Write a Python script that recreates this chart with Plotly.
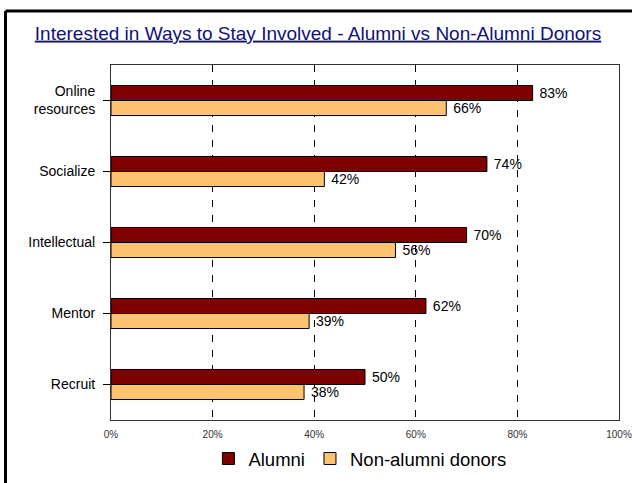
import plotly.graph_objects as go

# Data
CATEGORIES = ["Online<br>resources", "Socialize", "Intellectual", "Mentor", "Recruit"]
ALUMNI = [0.83, 0.74, 0.70, 0.62, 0.50]
NON_ALUMNI = [0.66, 0.42, 0.56, 0.39, 0.38]
X_TICKS = [0, 0.2, 0.4, 0.6, 0.8, 1.0]

MAROON = "#7F0000"
PEACH = "#FFC26E"
FONT = "Liberation Sans, Arial, sans-serif"

W, H = 632, 483
L, R, T, B = 111, 13, 65, 63
PW, PH = W - L - R, H - T - B

fig = go.Figure()
# y axis is reversed, so the first trace sits on top of each group
fig.add_trace(go.Bar(
    y=CATEGORIES, x=ALUMNI, orientation="h", name="Alumni",
    marker=dict(color=MAROON, line=dict(color="black", width=1)),
    text=[f" {v:.0%}" for v in ALUMNI], textposition="outside",
    textfont=dict(size=14, color="black", family=FONT),
    constraintext="none", cliponaxis=False,
))
fig.add_trace(go.Bar(
    y=CATEGORIES, x=NON_ALUMNI, orientation="h", name="Non-alumni donors",
    marker=dict(color=PEACH, line=dict(color="black", width=1)),
    text=[f" {v:.0%}" for v in NON_ALUMNI], textposition="outside",
    textfont=dict(size=14, color="black", family=FONT),
    constraintext="none", cliponaxis=False,
))

# outer frame (left and top edges visible in the reference)
fx = (5.5 - L) / PW
fy = (H - B - 11) / PH
fig.add_shape(type="line", xref="paper", yref="paper",
              x0=fx, x1=(W + 10 - L) / PW, y0=fy, y1=fy,
              line=dict(color="black", width=3))
fig.add_shape(type="line", xref="paper", yref="paper",
              x0=fx, x1=fx, y0=fy, y1=(H - B - H - 10) / PH,
              line=dict(color="black", width=3))

fig.update_layout(
    width=W, height=H,
    margin=dict(l=L, r=R, t=T, b=B, autoexpand=False),
    paper_bgcolor="white", plot_bgcolor="white",
    barmode="group", bargap=0.577, bargroupgap=0,
    font=dict(family=FONT, color="black"),
    title=dict(
        text="<u>Interested in Ways to Stay Involved - Alumni vs Non-Alumni Donors</u>",
        x=(318 / W), xref="container", y=1 - 33 / H, yref="container",
        xanchor="center", yanchor="middle",
        font=dict(size=19, color="#10107A", family=FONT),
    ),
    showlegend=True,
    legend=dict(
        orientation="h", x=0.49, xanchor="center", y=(H - B - 459) / PH, yanchor="middle",
        font=dict(size=18.5, color="black", family=FONT),
        traceorder="normal", itemwidth=30,
    ),
    xaxis=dict(
        range=[0, 1], tickvals=X_TICKS, tickformat=".0%",
        tickfont=dict(size=10, color="#333333"), ticklabelstandoff=5,
        showgrid=True, gridcolor="black", gridwidth=1, griddash="7px,8px",
        showline=True, linecolor="#333333", linewidth=1, mirror=True,
        ticks="", zeroline=False,
    ),
    yaxis=dict(
        autorange="reversed", categoryorder="array", categoryarray=CATEGORIES,
        tickfont=dict(size=14, color="black"), ticklabelstandoff=5,
        ticks="outside", ticklen=7, tickcolor="black",
        showline=True, linecolor="#333333", linewidth=1, mirror=True,
        showgrid=False,
    ),
)

# drop the browser's default 8px body margin so the figure sits at the page corner
fig.write_html("out.html", config={"displayModeBar": False},
               post_script="document.body.style.margin = '0';")
